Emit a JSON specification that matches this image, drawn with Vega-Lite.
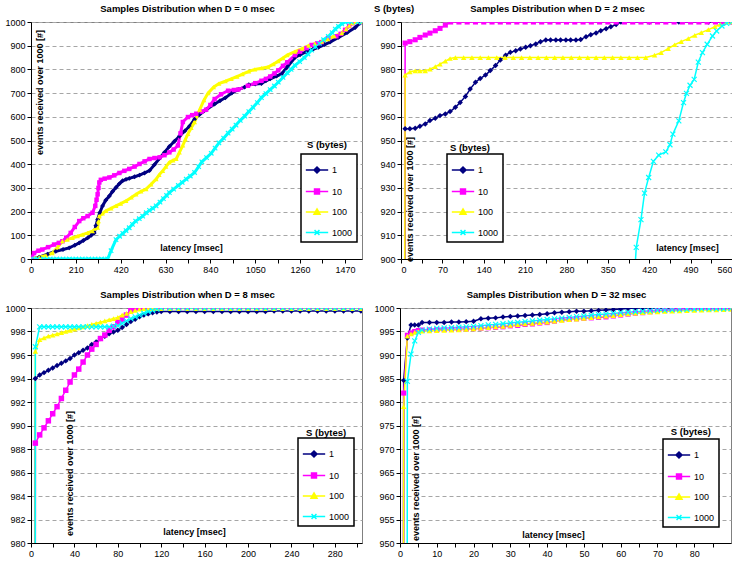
{
"$schema":"https://vega.github.io/schema/vega-lite/v6.json",
"background":"white",
"padding":{"left":4,"top":3,"right":0,"bottom":0},
"spacing":14,
"resolve":{"scale":{"color":"independent"},"legend":{"color":"independent"}},
"datasets":{
"d0":[
{"s":"1","x":0,"y":0},{"s":"1","x":38,"y":8},{"s":"1","x":77,"y":20},{"s":"1","x":116,"y":33},{"s":"1","x":150,"y":40},{"s":"1","x":179,"y":47},{"s":"1","x":205,"y":58},{"s":"1","x":226,"y":68},{"s":"1","x":245,"y":78},{"s":"1","x":265,"y":89},{"s":"1","x":282,"y":100},{"s":"1","x":296,"y":110},{"s":"1","x":304,"y":140},{"s":"1","x":312,"y":167},{"s":"1","x":322,"y":195},{"s":"1","x":335,"y":224},{"s":"1","x":350,"y":248},{"s":"1","x":367,"y":266},{"s":"1","x":382,"y":285},{"s":"1","x":398,"y":302},{"s":"1","x":414,"y":318},{"s":"1","x":429,"y":330},{"s":"1","x":445,"y":336},{"s":"1","x":460,"y":340},{"s":"1","x":485,"y":347},{"s":"1","x":508,"y":354},{"s":"1","x":532,"y":363},{"s":"1","x":555,"y":373},{"s":"1","x":578,"y":398},{"s":"1","x":602,"y":425},{"s":"1","x":625,"y":450},{"s":"1","x":648,"y":475},{"s":"1","x":672,"y":497},{"s":"1","x":695,"y":518},{"s":"1","x":720,"y":540},{"s":"1","x":742,"y":560},{"s":"1","x":766,"y":590},{"s":"1","x":789,"y":610},{"s":"1","x":820,"y":630},{"s":"1","x":860,"y":654},{"s":"1","x":885,"y":668},{"s":"1","x":910,"y":680},{"s":"1","x":940,"y":700},{"s":"1","x":970,"y":715},{"s":"1","x":1000,"y":725},{"s":"1","x":1020,"y":735},{"s":"1","x":1050,"y":738},{"s":"1","x":1079,"y":740},{"s":"1","x":1100,"y":752},{"s":"1","x":1120,"y":760},{"s":"1","x":1150,"y":772},{"s":"1","x":1173,"y":781},{"s":"1","x":1200,"y":810},{"s":"1","x":1236,"y":850},{"s":"1","x":1260,"y":862},{"s":"1","x":1290,"y":875},{"s":"1","x":1320,"y":885},{"s":"1","x":1346,"y":893},{"s":"1","x":1375,"y":905},{"s":"1","x":1400,"y":915},{"s":"1","x":1440,"y":935},{"s":"1","x":1480,"y":955},{"s":"1","x":1518,"y":977},{"s":"1","x":1540,"y":995},{"s":"1","x":1550,"y":1000},
{"s":"10","x":0,"y":0},{"s":"10","x":14,"y":25},{"s":"10","x":35,"y":35},{"s":"10","x":53,"y":40},{"s":"10","x":80,"y":50},{"s":"10","x":108,"y":61},{"s":"10","x":130,"y":68},{"s":"10","x":147,"y":75},{"s":"10","x":165,"y":90},{"s":"10","x":186,"y":110},{"s":"10","x":205,"y":135},{"s":"10","x":226,"y":160},{"s":"10","x":245,"y":172},{"s":"10","x":265,"y":181},{"s":"10","x":288,"y":195},{"s":"10","x":301,"y":224},{"s":"10","x":307,"y":250},{"s":"10","x":312,"y":273},{"s":"10","x":316,"y":300},{"s":"10","x":320,"y":323},{"s":"10","x":327,"y":334},{"s":"10","x":345,"y":339},{"s":"10","x":367,"y":344},{"s":"10","x":390,"y":353},{"s":"10","x":414,"y":363},{"s":"10","x":437,"y":372},{"s":"10","x":460,"y":380},{"s":"10","x":485,"y":390},{"s":"10","x":508,"y":401},{"s":"10","x":532,"y":412},{"s":"10","x":555,"y":422},{"s":"10","x":578,"y":426},{"s":"10","x":602,"y":429},{"s":"10","x":625,"y":438},{"s":"10","x":648,"y":450},{"s":"10","x":668,"y":462},{"s":"10","x":688,"y":479},{"s":"10","x":700,"y":530},{"s":"10","x":711,"y":578},{"s":"10","x":735,"y":599},{"s":"10","x":755,"y":607},{"s":"10","x":774,"y":613},{"s":"10","x":800,"y":622},{"s":"10","x":820,"y":630},{"s":"10","x":840,"y":650},{"s":"10","x":860,"y":675},{"s":"10","x":890,"y":695},{"s":"10","x":923,"y":710},{"s":"10","x":950,"y":713},{"s":"10","x":970,"y":715},{"s":"10","x":1016,"y":731},{"s":"10","x":1050,"y":742},{"s":"10","x":1079,"y":752},{"s":"10","x":1100,"y":760},{"s":"10","x":1120,"y":770},{"s":"10","x":1140,"y":783},{"s":"10","x":1158,"y":796},{"s":"10","x":1180,"y":815},{"s":"10","x":1200,"y":830},{"s":"10","x":1236,"y":860},{"s":"10","x":1260,"y":875},{"s":"10","x":1290,"y":890},{"s":"10","x":1314,"y":903},{"s":"10","x":1340,"y":910},{"s":"10","x":1360,"y":915},{"s":"10","x":1392,"y":931},{"s":"10","x":1430,"y":940},{"s":"10","x":1450,"y":950},{"s":"10","x":1471,"y":967},{"s":"10","x":1490,"y":983},{"s":"10","x":1505,"y":995},{"s":"10","x":1518,"y":1000},{"s":"10","x":1550,"y":1000},
{"s":"100","x":0,"y":0},{"s":"100","x":38,"y":8},{"s":"100","x":70,"y":15},{"s":"100","x":100,"y":25},{"s":"100","x":125,"y":50},{"s":"100","x":147,"y":75},{"s":"100","x":170,"y":82},{"s":"100","x":194,"y":89},{"s":"100","x":218,"y":96},{"s":"100","x":241,"y":103},{"s":"100","x":265,"y":110},{"s":"100","x":288,"y":118},{"s":"100","x":312,"y":132},{"s":"100","x":316,"y":160},{"s":"100","x":320,"y":181},{"s":"100","x":335,"y":192},{"s":"100","x":351,"y":203},{"s":"100","x":375,"y":214},{"s":"100","x":398,"y":224},{"s":"100","x":420,"y":234},{"s":"100","x":445,"y":245},{"s":"100","x":470,"y":260},{"s":"100","x":492,"y":273},{"s":"100","x":515,"y":285},{"s":"100","x":539,"y":295},{"s":"100","x":562,"y":315},{"s":"100","x":586,"y":337},{"s":"100","x":600,"y":355},{"s":"100","x":617,"y":372},{"s":"100","x":632,"y":390},{"s":"100","x":648,"y":408},{"s":"100","x":665,"y":416},{"s":"100","x":680,"y":422},{"s":"100","x":695,"y":450},{"s":"100","x":711,"y":479},{"s":"100","x":723,"y":505},{"s":"100","x":735,"y":528},{"s":"100","x":750,"y":553},{"s":"100","x":766,"y":578},{"s":"100","x":790,"y":630},{"s":"100","x":810,"y":670},{"s":"100","x":829,"y":700},{"s":"100","x":855,"y":725},{"s":"100","x":880,"y":740},{"s":"100","x":910,"y":750},{"s":"100","x":938,"y":760},{"s":"100","x":965,"y":770},{"s":"100","x":990,"y":780},{"s":"100","x":1020,"y":792},{"s":"100","x":1048,"y":800},{"s":"100","x":1080,"y":805},{"s":"100","x":1110,"y":810},{"s":"100","x":1135,"y":822},{"s":"100","x":1158,"y":835},{"s":"100","x":1180,"y":848},{"s":"100","x":1200,"y":860},{"s":"100","x":1236,"y":875},{"s":"100","x":1270,"y":888},{"s":"100","x":1300,"y":900},{"s":"100","x":1330,"y":908},{"s":"100","x":1361,"y":917},{"s":"100","x":1390,"y":928},{"s":"100","x":1420,"y":940},{"s":"100","x":1455,"y":953},{"s":"100","x":1475,"y":970},{"s":"100","x":1490,"y":985},{"s":"100","x":1505,"y":995},{"s":"100","x":1520,"y":1000},{"s":"100","x":1550,"y":1000},
{"s":"1000","x":0,"y":0},{"s":"1000","x":30,"y":0},{"s":"1000","x":60,"y":0},{"s":"1000","x":90,"y":0},{"s":"1000","x":120,"y":0},{"s":"1000","x":150,"y":0},{"s":"1000","x":180,"y":0},{"s":"1000","x":210,"y":0},{"s":"1000","x":240,"y":0},{"s":"1000","x":270,"y":0},{"s":"1000","x":300,"y":0},{"s":"1000","x":330,"y":0},{"s":"1000","x":359,"y":0},{"s":"1000","x":375,"y":35},{"s":"1000","x":398,"y":82},{"s":"1000","x":415,"y":96},{"s":"1000","x":430,"y":108},{"s":"1000","x":445,"y":120},{"s":"1000","x":460,"y":132},{"s":"1000","x":475,"y":146},{"s":"1000","x":490,"y":160},{"s":"1000","x":507,"y":170},{"s":"1000","x":523,"y":181},{"s":"1000","x":540,"y":195},{"s":"1000","x":555,"y":205},{"s":"1000","x":570,"y":214},{"s":"1000","x":586,"y":224},{"s":"1000","x":604,"y":240},{"s":"1000","x":620,"y":255},{"s":"1000","x":635,"y":268},{"s":"1000","x":648,"y":280},{"s":"1000","x":668,"y":295},{"s":"1000","x":690,"y":310},{"s":"1000","x":708,"y":323},{"s":"1000","x":727,"y":337},{"s":"1000","x":746,"y":350},{"s":"1000","x":766,"y":365},{"s":"1000","x":785,"y":390},{"s":"1000","x":800,"y":410},{"s":"1000","x":822,"y":428},{"s":"1000","x":844,"y":446},{"s":"1000","x":862,"y":468},{"s":"1000","x":880,"y":490},{"s":"1000","x":902,"y":510},{"s":"1000","x":923,"y":531},{"s":"1000","x":942,"y":548},{"s":"1000","x":960,"y":565},{"s":"1000","x":980,"y":585},{"s":"1000","x":1001,"y":603},{"s":"1000","x":1020,"y":622},{"s":"1000","x":1040,"y":640},{"s":"1000","x":1060,"y":660},{"s":"1000","x":1079,"y":681},{"s":"1000","x":1100,"y":698},{"s":"1000","x":1120,"y":715},{"s":"1000","x":1140,"y":730},{"s":"1000","x":1158,"y":746},{"s":"1000","x":1180,"y":766},{"s":"1000","x":1200,"y":785},{"s":"1000","x":1218,"y":800},{"s":"1000","x":1236,"y":817},{"s":"1000","x":1258,"y":833},{"s":"1000","x":1280,"y":850},{"s":"1000","x":1297,"y":865},{"s":"1000","x":1314,"y":881},{"s":"1000","x":1333,"y":896},{"s":"1000","x":1350,"y":910},{"s":"1000","x":1370,"y":925},{"s":"1000","x":1392,"y":939},{"s":"1000","x":1410,"y":955},{"s":"1000","x":1425,"y":970},{"s":"1000","x":1440,"y":981},{"s":"1000","x":1455,"y":992},{"s":"1000","x":1471,"y":1000},{"s":"1000","x":1500,"y":1000},{"s":"1000","x":1530,"y":1000},{"s":"1000","x":1550,"y":1000}
],
"d2":[
{"s":"1","x":0,"y":0},{"s":"1","x":7,"y":955},{"s":"1","x":15,"y":955},{"s":"1","x":24,"y":955.2},{"s":"1","x":32,"y":956},{"s":"1","x":41,"y":957},{"s":"1","x":49,"y":958.4},{"s":"1","x":58,"y":959.4},{"s":"1","x":66,"y":960.5},{"s":"1","x":75,"y":961.2},{"s":"1","x":83,"y":962.2},{"s":"1","x":92,"y":964},{"s":"1","x":100,"y":966},{"s":"1","x":109,"y":968.6},{"s":"1","x":117,"y":971.7},{"s":"1","x":126,"y":974.6},{"s":"1","x":134,"y":976.2},{"s":"1","x":143,"y":977.6},{"s":"1","x":151,"y":979.5},{"s":"1","x":160,"y":981.6},{"s":"1","x":168,"y":984},{"s":"1","x":177,"y":986},{"s":"1","x":185,"y":987.2},{"s":"1","x":194,"y":987.9},{"s":"1","x":202,"y":988.6},{"s":"1","x":211,"y":989.3},{"s":"1","x":219,"y":990},{"s":"1","x":228,"y":990.7},{"s":"1","x":236,"y":991.7},{"s":"1","x":245,"y":992.4},{"s":"1","x":253,"y":992.4},{"s":"1","x":262,"y":992.4},{"s":"1","x":270,"y":992.4},{"s":"1","x":279,"y":992.4},{"s":"1","x":287,"y":992.4},{"s":"1","x":296,"y":992.4},{"s":"1","x":304,"y":992.6},{"s":"1","x":313,"y":993.8},{"s":"1","x":321,"y":994.6},{"s":"1","x":330,"y":995.4},{"s":"1","x":338,"y":996.3},{"s":"1","x":347,"y":997.2},{"s":"1","x":355,"y":998},{"s":"1","x":364,"y":998.9},{"s":"1","x":372,"y":1000},{"s":"1","x":420,"y":1000},{"s":"1","x":470,"y":1000},{"s":"1","x":520,"y":1000},{"s":"1","x":560,"y":1000},
{"s":"10","x":0,"y":0},{"s":"10","x":7,"y":991.1},{"s":"10","x":15,"y":991.7},{"s":"10","x":24,"y":992.5},{"s":"10","x":32,"y":993.5},{"s":"10","x":41,"y":994.5},{"s":"10","x":49,"y":995.3},{"s":"10","x":58,"y":996.3},{"s":"10","x":66,"y":997.3},{"s":"10","x":75,"y":998.7},{"s":"10","x":84,"y":1000},{"s":"10","x":98,"y":1000},{"s":"10","x":112,"y":1000},{"s":"10","x":126,"y":1000},{"s":"10","x":140,"y":1000},{"s":"10","x":154,"y":1000},{"s":"10","x":168,"y":1000},{"s":"10","x":182,"y":1000},{"s":"10","x":196,"y":1000},{"s":"10","x":210,"y":1000},{"s":"10","x":224,"y":1000},{"s":"10","x":238,"y":1000},{"s":"10","x":252,"y":1000},{"s":"10","x":266,"y":1000},{"s":"10","x":280,"y":1000},{"s":"10","x":294,"y":1000},{"s":"10","x":308,"y":1000},{"s":"10","x":322,"y":1000},{"s":"10","x":336,"y":1000},{"s":"10","x":350,"y":1000},{"s":"10","x":364,"y":1000},{"s":"10","x":378,"y":1000},{"s":"10","x":392,"y":1000},{"s":"10","x":406,"y":1000},{"s":"10","x":420,"y":1000},{"s":"10","x":434,"y":1000},{"s":"10","x":448,"y":1000},{"s":"10","x":462,"y":1000},{"s":"10","x":476,"y":1000},{"s":"10","x":490,"y":1000},{"s":"10","x":504,"y":1000},{"s":"10","x":518,"y":1000},{"s":"10","x":532,"y":1000},{"s":"10","x":546,"y":1000},{"s":"10","x":560,"y":1000},
{"s":"100","x":0,"y":0},{"s":"100","x":7,"y":977.6},{"s":"100","x":15,"y":979},{"s":"100","x":24,"y":979.4},{"s":"100","x":32,"y":979.4},{"s":"100","x":41,"y":979.4},{"s":"100","x":49,"y":980.1},{"s":"100","x":58,"y":981.2},{"s":"100","x":66,"y":982.2},{"s":"100","x":75,"y":983.5},{"s":"100","x":83,"y":984.6},{"s":"100","x":92,"y":985},{"s":"100","x":106,"y":985},{"s":"100","x":120,"y":985},{"s":"100","x":134,"y":985},{"s":"100","x":148,"y":985},{"s":"100","x":162,"y":985},{"s":"100","x":176,"y":985},{"s":"100","x":190,"y":985},{"s":"100","x":204,"y":985},{"s":"100","x":218,"y":985},{"s":"100","x":232,"y":985},{"s":"100","x":246,"y":985},{"s":"100","x":260,"y":985},{"s":"100","x":274,"y":985},{"s":"100","x":288,"y":985},{"s":"100","x":302,"y":985},{"s":"100","x":316,"y":985},{"s":"100","x":330,"y":985},{"s":"100","x":344,"y":985},{"s":"100","x":358,"y":985},{"s":"100","x":372,"y":985},{"s":"100","x":386,"y":985},{"s":"100","x":400,"y":985},{"s":"100","x":414,"y":985},{"s":"100","x":429,"y":986},{"s":"100","x":440,"y":987.1},{"s":"100","x":452,"y":988.8},{"s":"100","x":463,"y":990.4},{"s":"100","x":474,"y":991.7},{"s":"100","x":486,"y":993},{"s":"100","x":497,"y":994.4},{"s":"100","x":508,"y":995.5},{"s":"100","x":520,"y":996.8},{"s":"100","x":531,"y":998},{"s":"100","x":540,"y":999},{"s":"100","x":551,"y":1000},{"s":"100","x":560,"y":1000},
{"s":"1000","x":392,"y":880},{"s":"1000","x":398,"y":904.9},{"s":"1000","x":406,"y":916.6},{"s":"1000","x":412,"y":927.8},{"s":"1000","x":419,"y":934.4},{"s":"1000","x":427,"y":941.2},{"s":"1000","x":436,"y":943.8},{"s":"1000","x":448,"y":945.2},{"s":"1000","x":455,"y":948.2},{"s":"1000","x":460,"y":952.7},{"s":"1000","x":470,"y":958.3},{"s":"1000","x":478,"y":966},{"s":"1000","x":483,"y":969.9},{"s":"1000","x":489,"y":973.3},{"s":"1000","x":496,"y":975.8},{"s":"1000","x":503,"y":983.1},{"s":"1000","x":510,"y":987.1},{"s":"1000","x":518,"y":990.6},{"s":"1000","x":527,"y":994.1},{"s":"1000","x":534,"y":996.2},{"s":"1000","x":543,"y":998.3},{"s":"1000","x":551,"y":999.4},{"s":"1000","x":560,"y":1000}
],
"d8":[
{"s":"1","x":0,"y":0},{"s":"1","x":4,"y":994},{"s":"1","x":8,"y":994.3},{"s":"1","x":12,"y":994.5},{"s":"1","x":16,"y":994.7},{"s":"1","x":20,"y":994.9},{"s":"1","x":24,"y":995.1},{"s":"1","x":28,"y":995.3},{"s":"1","x":32,"y":995.5},{"s":"1","x":36,"y":995.7},{"s":"1","x":40,"y":996},{"s":"1","x":44,"y":996.2},{"s":"1","x":48,"y":996.4},{"s":"1","x":52,"y":996.6},{"s":"1","x":56,"y":996.9},{"s":"1","x":60,"y":997.1},{"s":"1","x":64,"y":997.4},{"s":"1","x":68,"y":997.6},{"s":"1","x":72,"y":997.8},{"s":"1","x":76,"y":997.95},{"s":"1","x":80,"y":998.1},{"s":"1","x":84,"y":998.35},{"s":"1","x":88,"y":998.6},{"s":"1","x":92,"y":998.85},{"s":"1","x":96,"y":999.05},{"s":"1","x":100,"y":999.25},{"s":"1","x":104,"y":999.4},{"s":"1","x":108,"y":999.5},{"s":"1","x":112,"y":999.6},{"s":"1","x":116,"y":999.65},{"s":"1","x":120,"y":999.7},{"s":"1","x":128,"y":999.7},{"s":"1","x":136,"y":999.7},{"s":"1","x":144,"y":999.7},{"s":"1","x":152,"y":999.7},{"s":"1","x":160,"y":999.7},{"s":"1","x":168,"y":999.7},{"s":"1","x":176,"y":999.7},{"s":"1","x":184,"y":999.7},{"s":"1","x":192,"y":999.7},{"s":"1","x":200,"y":999.7},{"s":"1","x":208,"y":999.7},{"s":"1","x":216,"y":999.7},{"s":"1","x":224,"y":999.75},{"s":"1","x":232,"y":999.75},{"s":"1","x":240,"y":999.75},{"s":"1","x":248,"y":999.75},{"s":"1","x":256,"y":999.75},{"s":"1","x":264,"y":999.75},{"s":"1","x":272,"y":999.75},{"s":"1","x":280,"y":999.75},{"s":"1","x":288,"y":999.75},{"s":"1","x":296,"y":999.75},{"s":"1","x":304,"y":999.75},
{"s":"10","x":0,"y":0},{"s":"10","x":4,"y":988.5},{"s":"10","x":8,"y":989.2},{"s":"10","x":12,"y":989.8},{"s":"10","x":16,"y":990.4},{"s":"10","x":20,"y":991},{"s":"10","x":24,"y":991.6},{"s":"10","x":28,"y":992.3},{"s":"10","x":32,"y":993},{"s":"10","x":36,"y":993.7},{"s":"10","x":40,"y":994.3},{"s":"10","x":44,"y":994.8},{"s":"10","x":48,"y":995.4},{"s":"10","x":52,"y":996},{"s":"10","x":56,"y":996.5},{"s":"10","x":60,"y":996.9},{"s":"10","x":64,"y":997.4},{"s":"10","x":68,"y":997.7},{"s":"10","x":72,"y":998.1},{"s":"10","x":76,"y":998.4},{"s":"10","x":80,"y":998.8},{"s":"10","x":84,"y":999},{"s":"10","x":88,"y":999.4},{"s":"10","x":92,"y":999.8},{"s":"10","x":96,"y":1000},{"s":"10","x":100,"y":1000},{"s":"10","x":104,"y":1000},{"s":"10","x":108,"y":1000},{"s":"10","x":112,"y":1000},{"s":"10","x":116,"y":1000},{"s":"10","x":120,"y":1000},{"s":"10","x":128,"y":1000},{"s":"10","x":136,"y":1000},{"s":"10","x":144,"y":1000},{"s":"10","x":152,"y":1000},{"s":"10","x":160,"y":1000},{"s":"10","x":168,"y":1000},{"s":"10","x":176,"y":1000},{"s":"10","x":184,"y":1000},{"s":"10","x":192,"y":1000},{"s":"10","x":200,"y":1000},{"s":"10","x":208,"y":1000},{"s":"10","x":216,"y":1000},{"s":"10","x":224,"y":1000},{"s":"10","x":232,"y":1000},{"s":"10","x":240,"y":1000},{"s":"10","x":248,"y":1000},{"s":"10","x":256,"y":1000},{"s":"10","x":264,"y":1000},{"s":"10","x":272,"y":1000},{"s":"10","x":280,"y":1000},{"s":"10","x":288,"y":1000},{"s":"10","x":296,"y":1000},{"s":"10","x":304,"y":1000},
{"s":"100","x":0,"y":0},{"s":"100","x":4,"y":996.3},{"s":"100","x":8,"y":997.3},{"s":"100","x":12,"y":997.45},{"s":"100","x":16,"y":997.6},{"s":"100","x":20,"y":997.7},{"s":"100","x":24,"y":997.8},{"s":"100","x":28,"y":997.9},{"s":"100","x":32,"y":998},{"s":"100","x":36,"y":998.1},{"s":"100","x":40,"y":998.2},{"s":"100","x":44,"y":998.3},{"s":"100","x":48,"y":998.4},{"s":"100","x":52,"y":998.5},{"s":"100","x":56,"y":998.6},{"s":"100","x":60,"y":998.7},{"s":"100","x":64,"y":998.8},{"s":"100","x":68,"y":998.9},{"s":"100","x":72,"y":999},{"s":"100","x":76,"y":999.1},{"s":"100","x":80,"y":999.2},{"s":"100","x":84,"y":999.4},{"s":"100","x":88,"y":999.55},{"s":"100","x":92,"y":999.7},{"s":"100","x":96,"y":999.8},{"s":"100","x":100,"y":999.9},{"s":"100","x":104,"y":999.95},{"s":"100","x":108,"y":999.95},{"s":"100","x":112,"y":999.95},{"s":"100","x":116,"y":999.95},{"s":"100","x":120,"y":999.95},{"s":"100","x":128,"y":999.95},{"s":"100","x":136,"y":999.95},{"s":"100","x":144,"y":999.95},{"s":"100","x":152,"y":999.95},{"s":"100","x":160,"y":999.95},{"s":"100","x":168,"y":999.95},{"s":"100","x":176,"y":999.95},{"s":"100","x":184,"y":999.95},{"s":"100","x":192,"y":999.95},{"s":"100","x":200,"y":999.95},{"s":"100","x":208,"y":999.95},{"s":"100","x":216,"y":999.95},{"s":"100","x":224,"y":999.95},{"s":"100","x":232,"y":999.95},{"s":"100","x":240,"y":999.95},{"s":"100","x":248,"y":999.95},{"s":"100","x":256,"y":999.95},{"s":"100","x":264,"y":999.95},{"s":"100","x":272,"y":999.95},{"s":"100","x":280,"y":999.95},{"s":"100","x":288,"y":999.95},{"s":"100","x":296,"y":999.95},{"s":"100","x":304,"y":999.95},
{"s":"1000","x":0,"y":0},{"s":"1000","x":4,"y":996.7},{"s":"1000","x":8,"y":998.4},{"s":"1000","x":12,"y":998.4},{"s":"1000","x":16,"y":998.4},{"s":"1000","x":20,"y":998.4},{"s":"1000","x":24,"y":998.4},{"s":"1000","x":28,"y":998.4},{"s":"1000","x":32,"y":998.4},{"s":"1000","x":36,"y":998.4},{"s":"1000","x":40,"y":998.4},{"s":"1000","x":44,"y":998.4},{"s":"1000","x":48,"y":998.4},{"s":"1000","x":52,"y":998.4},{"s":"1000","x":56,"y":998.4},{"s":"1000","x":60,"y":998.4},{"s":"1000","x":64,"y":998.4},{"s":"1000","x":68,"y":998.4},{"s":"1000","x":72,"y":998.4},{"s":"1000","x":76,"y":998.45},{"s":"1000","x":80,"y":998.5},{"s":"1000","x":84,"y":998.7},{"s":"1000","x":88,"y":998.9},{"s":"1000","x":92,"y":999.1},{"s":"1000","x":96,"y":999.25},{"s":"1000","x":100,"y":999.4},{"s":"1000","x":104,"y":999.55},{"s":"1000","x":108,"y":999.7},{"s":"1000","x":112,"y":999.8},{"s":"1000","x":116,"y":999.9},{"s":"1000","x":120,"y":1000},{"s":"1000","x":128,"y":1000},{"s":"1000","x":136,"y":1000},{"s":"1000","x":144,"y":1000},{"s":"1000","x":152,"y":1000},{"s":"1000","x":160,"y":1000},{"s":"1000","x":168,"y":1000},{"s":"1000","x":176,"y":1000},{"s":"1000","x":184,"y":1000},{"s":"1000","x":192,"y":1000},{"s":"1000","x":200,"y":1000},{"s":"1000","x":208,"y":1000},{"s":"1000","x":216,"y":1000},{"s":"1000","x":224,"y":1000},{"s":"1000","x":232,"y":1000},{"s":"1000","x":240,"y":1000},{"s":"1000","x":248,"y":1000},{"s":"1000","x":256,"y":1000},{"s":"1000","x":264,"y":1000},{"s":"1000","x":272,"y":1000},{"s":"1000","x":280,"y":1000},{"s":"1000","x":288,"y":1000},{"s":"1000","x":296,"y":1000},{"s":"1000","x":304,"y":1000}
],
"d32":[
{"s":"1","x":0,"y":0},{"s":"1","x":1,"y":984.6},{"s":"1","x":2,"y":993.6},{"s":"1","x":3,"y":996.4},{"s":"1","x":4,"y":996.4},{"s":"1","x":5,"y":996.4},{"s":"1","x":6,"y":996.9},{"s":"1","x":8,"y":996.9},{"s":"1","x":10,"y":996.9},{"s":"1","x":12,"y":996.9},{"s":"1","x":14,"y":997},{"s":"1","x":16,"y":997},{"s":"1","x":18,"y":997.1},{"s":"1","x":20,"y":997.2},{"s":"1","x":22,"y":997.7},{"s":"1","x":24,"y":997.8},{"s":"1","x":26,"y":997.9},{"s":"1","x":28,"y":998.1},{"s":"1","x":30,"y":998.2},{"s":"1","x":32,"y":998.3},{"s":"1","x":34,"y":998.4},{"s":"1","x":36,"y":998.5},{"s":"1","x":38,"y":998.6},{"s":"1","x":40,"y":998.8},{"s":"1","x":42,"y":999},{"s":"1","x":44,"y":999.1},{"s":"1","x":46,"y":999.2},{"s":"1","x":48,"y":999.3},{"s":"1","x":50,"y":999.3},{"s":"1","x":52,"y":999.4},{"s":"1","x":54,"y":999.5},{"s":"1","x":56,"y":999.6},{"s":"1","x":58,"y":999.7},{"s":"1","x":60,"y":999.8},{"s":"1","x":62,"y":999.9},{"s":"1","x":64,"y":1000},{"s":"1","x":66,"y":1000},{"s":"1","x":68,"y":1000},{"s":"1","x":70,"y":1000},{"s":"1","x":72,"y":1000},{"s":"1","x":74,"y":1000},{"s":"1","x":76,"y":1000},{"s":"1","x":78,"y":1000},{"s":"1","x":80,"y":1000},{"s":"1","x":82,"y":1000},{"s":"1","x":84,"y":1000},{"s":"1","x":86,"y":1000},{"s":"1","x":88,"y":1000},{"s":"1","x":90,"y":1000},
{"s":"10","x":0,"y":0},{"s":"10","x":1,"y":981.9},{"s":"10","x":2,"y":994.2},{"s":"10","x":3,"y":994.7},{"s":"10","x":4,"y":995},{"s":"10","x":5,"y":995.2},{"s":"10","x":6,"y":995.3},{"s":"10","x":8,"y":995.35},{"s":"10","x":10,"y":995.4},{"s":"10","x":12,"y":995.45},{"s":"10","x":14,"y":995.5},{"s":"10","x":16,"y":995.5},{"s":"10","x":18,"y":995.55},{"s":"10","x":20,"y":995.6},{"s":"10","x":22,"y":995.7},{"s":"10","x":24,"y":995.8},{"s":"10","x":26,"y":995.9},{"s":"10","x":28,"y":996},{"s":"10","x":30,"y":996.2},{"s":"10","x":32,"y":996.3},{"s":"10","x":34,"y":996.5},{"s":"10","x":36,"y":996.6},{"s":"10","x":38,"y":996.8},{"s":"10","x":40,"y":996.9},{"s":"10","x":42,"y":997.2},{"s":"10","x":44,"y":997.5},{"s":"10","x":46,"y":997.6},{"s":"10","x":48,"y":997.7},{"s":"10","x":50,"y":997.8},{"s":"10","x":52,"y":997.9},{"s":"10","x":54,"y":998},{"s":"10","x":56,"y":998.1},{"s":"10","x":58,"y":998.3},{"s":"10","x":60,"y":998.5},{"s":"10","x":62,"y":998.7},{"s":"10","x":64,"y":998.9},{"s":"10","x":66,"y":999},{"s":"10","x":68,"y":999.2},{"s":"10","x":70,"y":999.4},{"s":"10","x":72,"y":999.5},{"s":"10","x":74,"y":999.7},{"s":"10","x":76,"y":999.9},{"s":"10","x":78,"y":1000},{"s":"10","x":80,"y":1000},{"s":"10","x":82,"y":1000},{"s":"10","x":84,"y":1000},{"s":"10","x":86,"y":1000},{"s":"10","x":88,"y":1000},{"s":"10","x":90,"y":1000},
{"s":"100","x":0,"y":0},{"s":"100","x":1,"y":979},{"s":"100","x":2,"y":994},{"s":"100","x":3,"y":994.5},{"s":"100","x":4,"y":994.8},{"s":"100","x":5,"y":995},{"s":"100","x":6,"y":995.1},{"s":"100","x":8,"y":995.15},{"s":"100","x":10,"y":995.2},{"s":"100","x":12,"y":995.25},{"s":"100","x":14,"y":995.3},{"s":"100","x":16,"y":995.35},{"s":"100","x":18,"y":995.45},{"s":"100","x":20,"y":995.55},{"s":"100","x":22,"y":995.7},{"s":"100","x":24,"y":995.85},{"s":"100","x":26,"y":996},{"s":"100","x":28,"y":996.1},{"s":"100","x":30,"y":996.3},{"s":"100","x":32,"y":996.45},{"s":"100","x":34,"y":996.6},{"s":"100","x":36,"y":996.75},{"s":"100","x":38,"y":996.9},{"s":"100","x":40,"y":997},{"s":"100","x":42,"y":997.2},{"s":"100","x":44,"y":997.35},{"s":"100","x":46,"y":997.5},{"s":"100","x":48,"y":997.65},{"s":"100","x":50,"y":997.8},{"s":"100","x":52,"y":997.95},{"s":"100","x":54,"y":998.1},{"s":"100","x":56,"y":998.25},{"s":"100","x":58,"y":998.4},{"s":"100","x":60,"y":998.6},{"s":"100","x":62,"y":998.75},{"s":"100","x":64,"y":998.9},{"s":"100","x":66,"y":999},{"s":"100","x":68,"y":999.1},{"s":"100","x":70,"y":999.2},{"s":"100","x":72,"y":999.3},{"s":"100","x":74,"y":999.35},{"s":"100","x":76,"y":999.4},{"s":"100","x":78,"y":999.45},{"s":"100","x":80,"y":999.5},{"s":"100","x":82,"y":999.55},{"s":"100","x":84,"y":999.6},{"s":"100","x":86,"y":999.6},{"s":"100","x":88,"y":999.65},{"s":"100","x":90,"y":999.7},
{"s":"1000","x":1,"y":0},{"s":"1000","x":2,"y":984.4},{"s":"1000","x":3,"y":990.2},{"s":"1000","x":4,"y":993},{"s":"1000","x":5,"y":994.8},{"s":"1000","x":6,"y":995.3},{"s":"1000","x":8,"y":995.5},{"s":"1000","x":10,"y":995.65},{"s":"1000","x":12,"y":995.75},{"s":"1000","x":14,"y":995.8},{"s":"1000","x":16,"y":995.9},{"s":"1000","x":18,"y":996},{"s":"1000","x":20,"y":996.1},{"s":"1000","x":22,"y":996.25},{"s":"1000","x":24,"y":996.4},{"s":"1000","x":26,"y":996.5},{"s":"1000","x":28,"y":996.65},{"s":"1000","x":30,"y":996.8},{"s":"1000","x":32,"y":996.95},{"s":"1000","x":34,"y":997.1},{"s":"1000","x":36,"y":997.25},{"s":"1000","x":38,"y":997.4},{"s":"1000","x":40,"y":997.55},{"s":"1000","x":42,"y":997.7},{"s":"1000","x":44,"y":997.85},{"s":"1000","x":46,"y":998},{"s":"1000","x":48,"y":998.15},{"s":"1000","x":50,"y":998.3},{"s":"1000","x":52,"y":998.45},{"s":"1000","x":54,"y":998.6},{"s":"1000","x":56,"y":998.7},{"s":"1000","x":58,"y":998.85},{"s":"1000","x":60,"y":999},{"s":"1000","x":62,"y":999.1},{"s":"1000","x":64,"y":999.2},{"s":"1000","x":66,"y":999.3},{"s":"1000","x":68,"y":999.4},{"s":"1000","x":70,"y":999.5},{"s":"1000","x":72,"y":999.55},{"s":"1000","x":74,"y":999.6},{"s":"1000","x":76,"y":999.65},{"s":"1000","x":78,"y":999.7},{"s":"1000","x":80,"y":999.75},{"s":"1000","x":82,"y":999.8},{"s":"1000","x":84,"y":999.8},{"s":"1000","x":86,"y":999.85},{"s":"1000","x":88,"y":999.85},{"s":"1000","x":90,"y":999.9}
]
},
"vconcat":[
{"resolve":{"scale":{"color":"independent"},"legend":{"color":"independent"}},"spacing":10,"hconcat":[
{"width":331,"height":237,"title":{"text":"Samples Distribution when D = 0 msec"},
"layer":[
{"data":{"name":"d0"},
"encoding":{
"x":{"field":"x","type":"quantitative","scale":{"domain":[0,1550],"nice":false,"zero":false},"axis":{"values":[0,105,210,315,420,525,630,735,840,945,1050,1155,1260,1365,1470],"format":"d","labelExpr":"datum.value % 210 === 0 ? datum.label : ''","title":"latency [msec]","titleX":160,"titleY":-12}},
"y":{"field":"y","type":"quantitative","scale":{"domain":[0,1000],"nice":false,"zero":false},"axis":{"values":[0,100,200,300,400,500,600,700,800,900,1000],"format":"d","labelOverlap":false,"title":"events received over 1000 [#]","titleX":8,"titleY":70}},
"color":{"field":"s","type":"nominal","scale":{"domain":["1","10","100","1000"],"range":["#000080","#ff00ff","#ffff00","#00ffff"]},"legend":{"title":null,"legendX":270,"legendY":132,"encode":{"symbols":{"update":{"shape":{"signal":"datum.value==='1'?'M-1,0L1,0M0,-0.27L0.27,0L0,0.27L-0.27,0Z':datum.value==='10'?'M-1,0L1,0M-0.22,-0.22L0.22,-0.22L0.22,0.22L-0.22,0.22Z':datum.value==='100'?'M-1,0L1,0M0,-0.27L0.27,0.2L-0.27,0.2Z':'M-1,0L1,0M-0.22,-0.22L0.22,0.22M-0.22,0.22L0.22,-0.22'"},"stroke":{"signal":"datum.value==='1'?'#000080':datum.value==='10'?'#ff00ff':datum.value==='100'?'#ffff00':'#00ffff'"},"fill":{"signal":"datum.value==='1'?'#000080':datum.value==='10'?'#ff00ff':datum.value==='100'?'#ffff00':'#00ffff'"},"strokeWidth":{"value":1.5},"opacity":{"value":1}}}}}}
},
"layer":[
{"mark":{"type":"line","strokeWidth":3,"clip":true}},
{"transform":[{"filter":"datum.s==='1'"}],"mark":{"type":"point","shape":"diamond","filled":true,"size":24,"opacity":1,"clip":true}},
{"transform":[{"filter":"datum.s==='10'"}],"mark":{"type":"point","shape":"square","filled":true,"size":20,"opacity":1,"clip":true}},
{"transform":[{"filter":"datum.s==='100'"}],"mark":{"type":"point","shape":"triangle-up","filled":true,"size":24,"opacity":1,"clip":true}},
{"transform":[{"filter":"datum.s==='1000'"}],"mark":{"type":"point","shape":"M-1,-1L1,1M-1,1L1,-1","filled":false,"size":20,"strokeWidth":1.2,"opacity":1,"clip":true}}
]},
{"data":{"values":[{}]},"mark":{"type":"text","fontWeight":"bold","fontSize":9.5,"color":"#000"},"encoding":{"x":{"datum":1386,"type":"quantitative","axis":{"values":[0,105,210,315,420,525,630,735,840,945,1050,1155,1260,1365,1470]}},"y":{"datum":481,"type":"quantitative","axis":{"values":[0,100,200,300,400,500,600,700,800,900,1000],"labelOverlap":false}},"text":{"value":"S (bytes)"}}}
]},
{"width":331,"height":237,"title":{"text":"Samples Distribution when D = 2 msec","offset":-10},
"layer":[
{"data":{"name":"d2"},
"encoding":{
"x":{"field":"x","type":"quantitative","scale":{"domain":[0,560],"nice":false,"zero":false},"axis":{"values":[0,35,70,105,140,175,210,245,280,315,350,385,420,455,490,525,560],"format":"d","labelFlush":true,"labelExpr":"datum.value % 70 === 0 ? datum.label : ''","title":"latency [msec]","titleX":286,"titleY":-12}},
"y":{"field":"y","type":"quantitative","scale":{"domain":[900,1000],"nice":false,"zero":false},"axis":{"values":[900,910,920,930,940,950,960,970,980,990,1000],"format":"d","labelOverlap":false,"title":"events received over 1000 [#]","titleX":8,"titleY":177}},
"color":{"field":"s","type":"nominal","scale":{"domain":["1","10","100","1000"],"range":["#000080","#ff00ff","#ffff00","#00ffff"]},"legend":{"title":null,"legendX":46,"legendY":132,"encode":{"symbols":{"update":{"shape":{"signal":"datum.value==='1'?'M-1,0L1,0M0,-0.27L0.27,0L0,0.27L-0.27,0Z':datum.value==='10'?'M-1,0L1,0M-0.22,-0.22L0.22,-0.22L0.22,0.22L-0.22,0.22Z':datum.value==='100'?'M-1,0L1,0M0,-0.27L0.27,0.2L-0.27,0.2Z':'M-1,0L1,0M-0.22,-0.22L0.22,0.22M-0.22,0.22L0.22,-0.22'"},"stroke":{"signal":"datum.value==='1'?'#000080':datum.value==='10'?'#ff00ff':datum.value==='100'?'#ffff00':'#00ffff'"},"fill":{"signal":"datum.value==='1'?'#000080':datum.value==='10'?'#ff00ff':datum.value==='100'?'#ffff00':'#00ffff'"},"strokeWidth":{"value":1.5},"opacity":{"value":1}}}}}}
},
"layer":[
{"mark":{"type":"line","strokeWidth":1.5,"clip":true}},
{"transform":[{"filter":"datum.s==='1'"}],"mark":{"type":"point","shape":"diamond","filled":true,"size":30,"opacity":1,"clip":true}},
{"transform":[{"filter":"datum.s==='10'"}],"mark":{"type":"point","shape":"square","filled":true,"size":26,"opacity":1,"clip":true}},
{"transform":[{"filter":"datum.s==='100'"}],"mark":{"type":"point","shape":"triangle-up","filled":true,"size":30,"opacity":1,"clip":true}},
{"transform":[{"filter":"datum.s==='1000'"}],"mark":{"type":"point","shape":"M-1,-1L1,1M-1,1L1,-1","filled":false,"size":25,"strokeWidth":1.2,"opacity":1,"clip":true}}
]},
{"data":{"values":[{}]},"mark":{"type":"text","fontWeight":"bold","fontSize":9.5,"color":"#000"},"encoding":{"x":{"datum":116.7,"type":"quantitative","axis":{"values":[0,35,70,105,140,175,210,245,280,315,350,385,420,455,490,525,560]}},"y":{"datum":946.8,"type":"quantitative","axis":{"values":[900,910,920,930,940,950,960,970,980,990,1000],"labelOverlap":false}},"text":{"value":"S (bytes)"}}},
{"data":{"values":[{}]},"mark":{"type":"text","fontWeight":"bold","fontSize":9.5,"color":"#000"},"encoding":{"x":{"datum":-11.8,"type":"quantitative","axis":{"values":[0,35,70,105,140,175,210,245,280,315,350,385,420,455,490,525,560]}},"y":{"datum":1005.5,"type":"quantitative","axis":{"values":[900,910,920,930,940,950,960,970,980,990,1000],"labelOverlap":false}},"text":{"value":"S (bytes)"}}}
]}
]},
{"resolve":{"scale":{"color":"independent"},"legend":{"color":"independent"}},"spacing":10,"hconcat":[
{"width":331,"height":235,"title":{"text":"Samples Distribution when D = 8 msec"},
"layer":[
{"data":{"name":"d8"},
"encoding":{
"x":{"field":"x","type":"quantitative","scale":{"domain":[0,305],"nice":false,"zero":false},"axis":{"values":[0,20,40,60,80,100,120,140,160,180,200,220,240,260,280,300],"format":"d","labelExpr":"datum.value % 40 === 0 ? datum.label : ''","title":"latency [msec]","titleX":163,"titleY":-12}},
"y":{"field":"y","type":"quantitative","scale":{"domain":[980,1000],"nice":false,"zero":false},"axis":{"values":[980,982,984,986,988,990,992,994,996,998,1000],"format":"d","labelOverlap":false,"title":"events received over 1000 [#]","titleX":38,"titleY":165}},
"color":{"field":"s","type":"nominal","scale":{"domain":["1","10","100","1000"],"range":["#000080","#ff00ff","#ffff00","#00ffff"]},"legend":{"title":null,"legendX":267,"legendY":130,"encode":{"symbols":{"update":{"shape":{"signal":"datum.value==='1'?'M-1,0L1,0M0,-0.27L0.27,0L0,0.27L-0.27,0Z':datum.value==='10'?'M-1,0L1,0M-0.22,-0.22L0.22,-0.22L0.22,0.22L-0.22,0.22Z':datum.value==='100'?'M-1,0L1,0M0,-0.27L0.27,0.2L-0.27,0.2Z':'M-1,0L1,0M-0.22,-0.22L0.22,0.22M-0.22,0.22L0.22,-0.22'"},"stroke":{"signal":"datum.value==='1'?'#000080':datum.value==='10'?'#ff00ff':datum.value==='100'?'#ffff00':'#00ffff'"},"fill":{"signal":"datum.value==='1'?'#000080':datum.value==='10'?'#ff00ff':datum.value==='100'?'#ffff00':'#00ffff'"},"strokeWidth":{"value":1.5},"opacity":{"value":1}}}}}}
},
"layer":[
{"mark":{"type":"line","strokeWidth":1.5,"clip":true}},
{"transform":[{"filter":"datum.s==='1'"}],"mark":{"type":"point","shape":"diamond","filled":true,"size":30,"opacity":1,"clip":true}},
{"transform":[{"filter":"datum.s==='10'"}],"mark":{"type":"point","shape":"square","filled":true,"size":30,"opacity":1,"clip":true}},
{"transform":[{"filter":"datum.s==='100'"}],"mark":{"type":"point","shape":"triangle-up","filled":true,"size":30,"opacity":1,"clip":true}},
{"transform":[{"filter":"datum.s==='1000'"}],"mark":{"type":"point","shape":"M-1,-1L1,1M-1,1L1,-1","filled":false,"size":25,"strokeWidth":1.2,"opacity":1,"clip":true}}
]},
{"data":{"values":[{}]},"mark":{"type":"text","fontWeight":"bold","fontSize":9.5,"color":"#000"},"encoding":{"x":{"datum":272,"type":"quantitative","axis":{"values":[0,20,40,60,80,100,120,140,160,180,200,220,240,260,280,300]}},"y":{"datum":989.4,"type":"quantitative","axis":{"values":[980,982,984,986,988,990,992,994,996,998,1000],"labelOverlap":false}},"text":{"value":"S (bytes)"}}}
]},
{"width":331,"height":235,"title":{"text":"Samples Distribution when D = 32 msec"},
"layer":[
{"data":{"name":"d32"},
"encoding":{
"x":{"field":"x","type":"quantitative","scale":{"domain":[0,90],"nice":false,"zero":false},"axis":{"values":[0,5,10,15,20,25,30,35,40,45,50,55,60,65,70,75,80,85],"format":"d","labelExpr":"datum.value % 10 === 0 ? datum.label : ''","title":"latency [msec]","titleX":153,"titleY":-9}},
"y":{"field":"y","type":"quantitative","scale":{"domain":[950,1000],"nice":false,"zero":false},"axis":{"values":[950,955,960,965,970,975,980,985,990,995,1000],"format":"d","labelOverlap":false,"title":"events received over 1000 [#]","titleX":15,"titleY":170}},
"color":{"field":"s","type":"nominal","scale":{"domain":["1","10","100","1000"],"range":["#000080","#ff00ff","#ffff00","#00ffff"]},"legend":{"title":null,"legendX":263,"legendY":131,"encode":{"symbols":{"update":{"shape":{"signal":"datum.value==='1'?'M-1,0L1,0M0,-0.27L0.27,0L0,0.27L-0.27,0Z':datum.value==='10'?'M-1,0L1,0M-0.22,-0.22L0.22,-0.22L0.22,0.22L-0.22,0.22Z':datum.value==='100'?'M-1,0L1,0M0,-0.27L0.27,0.2L-0.27,0.2Z':'M-1,0L1,0M-0.22,-0.22L0.22,0.22M-0.22,0.22L0.22,-0.22'"},"stroke":{"signal":"datum.value==='1'?'#000080':datum.value==='10'?'#ff00ff':datum.value==='100'?'#ffff00':'#00ffff'"},"fill":{"signal":"datum.value==='1'?'#000080':datum.value==='10'?'#ff00ff':datum.value==='100'?'#ffff00':'#00ffff'"},"strokeWidth":{"value":1.5},"opacity":{"value":1}}}}}}
},
"layer":[
{"mark":{"type":"line","strokeWidth":1.5,"clip":true}},
{"transform":[{"filter":"datum.s==='1'"}],"mark":{"type":"point","shape":"diamond","filled":true,"size":30,"opacity":1,"clip":true}},
{"transform":[{"filter":"datum.s==='10'"}],"mark":{"type":"point","shape":"square","filled":true,"size":26,"opacity":1,"clip":true}},
{"transform":[{"filter":"datum.s==='100'"}],"mark":{"type":"point","shape":"triangle-up","filled":true,"size":30,"opacity":1,"clip":true}},
{"transform":[{"filter":"datum.s==='1000'"}],"mark":{"type":"point","shape":"M-1,-1L1,1M-1,1L1,-1","filled":false,"size":25,"strokeWidth":1.2,"opacity":1,"clip":true}}
]},
{"data":{"values":[{}]},"mark":{"type":"text","fontWeight":"bold","fontSize":9.5,"color":"#000"},"encoding":{"x":{"datum":79.1,"type":"quantitative","axis":{"values":[0,5,10,15,20,25,30,35,40,45,50,55,60,65,70,75,80,85]}},"y":{"datum":973.6,"type":"quantitative","axis":{"values":[950,955,960,965,970,975,980,985,990,995,1000],"labelOverlap":false}},"text":{"value":"S (bytes)"}}}
]}
]}
],
"config":{
"font":"Liberation Sans",
"view":{"stroke":"#808080","strokeWidth":1},
"title":{"font":"Liberation Sans","fontSize":9.5,"fontWeight":"bold","color":"#000","offset":5,"dx":-9},
"axis":{"labelFont":"Liberation Sans","labelFontSize":9,"labelColor":"#000","domainColor":"#000","domainWidth":1,"tickColor":"#000","tickSize":4,"labelPadding":2,"titleFont":"Liberation Sans","titleFontSize":9,"titleFontWeight":"bold","titleColor":"#000","titleAlign":"center","titleBaseline":"middle","labelOverlap":false},
"axisX":{"grid":false,"labelFlush":false},
"axisY":{"grid":true,"gridColor":"#a6a6a6","gridDash":[4,3],"titleAngle":270},
"legend":{"orient":"none","strokeColor":"#000","strokeWidth":1.5,"padding":4,"rowPadding":2.5,"labelFont":"Liberation Sans","labelFontSize":9,"labelColor":"#000","labelOffset":3,"symbolSize":500,"fillColor":"#fff"}
}
}
